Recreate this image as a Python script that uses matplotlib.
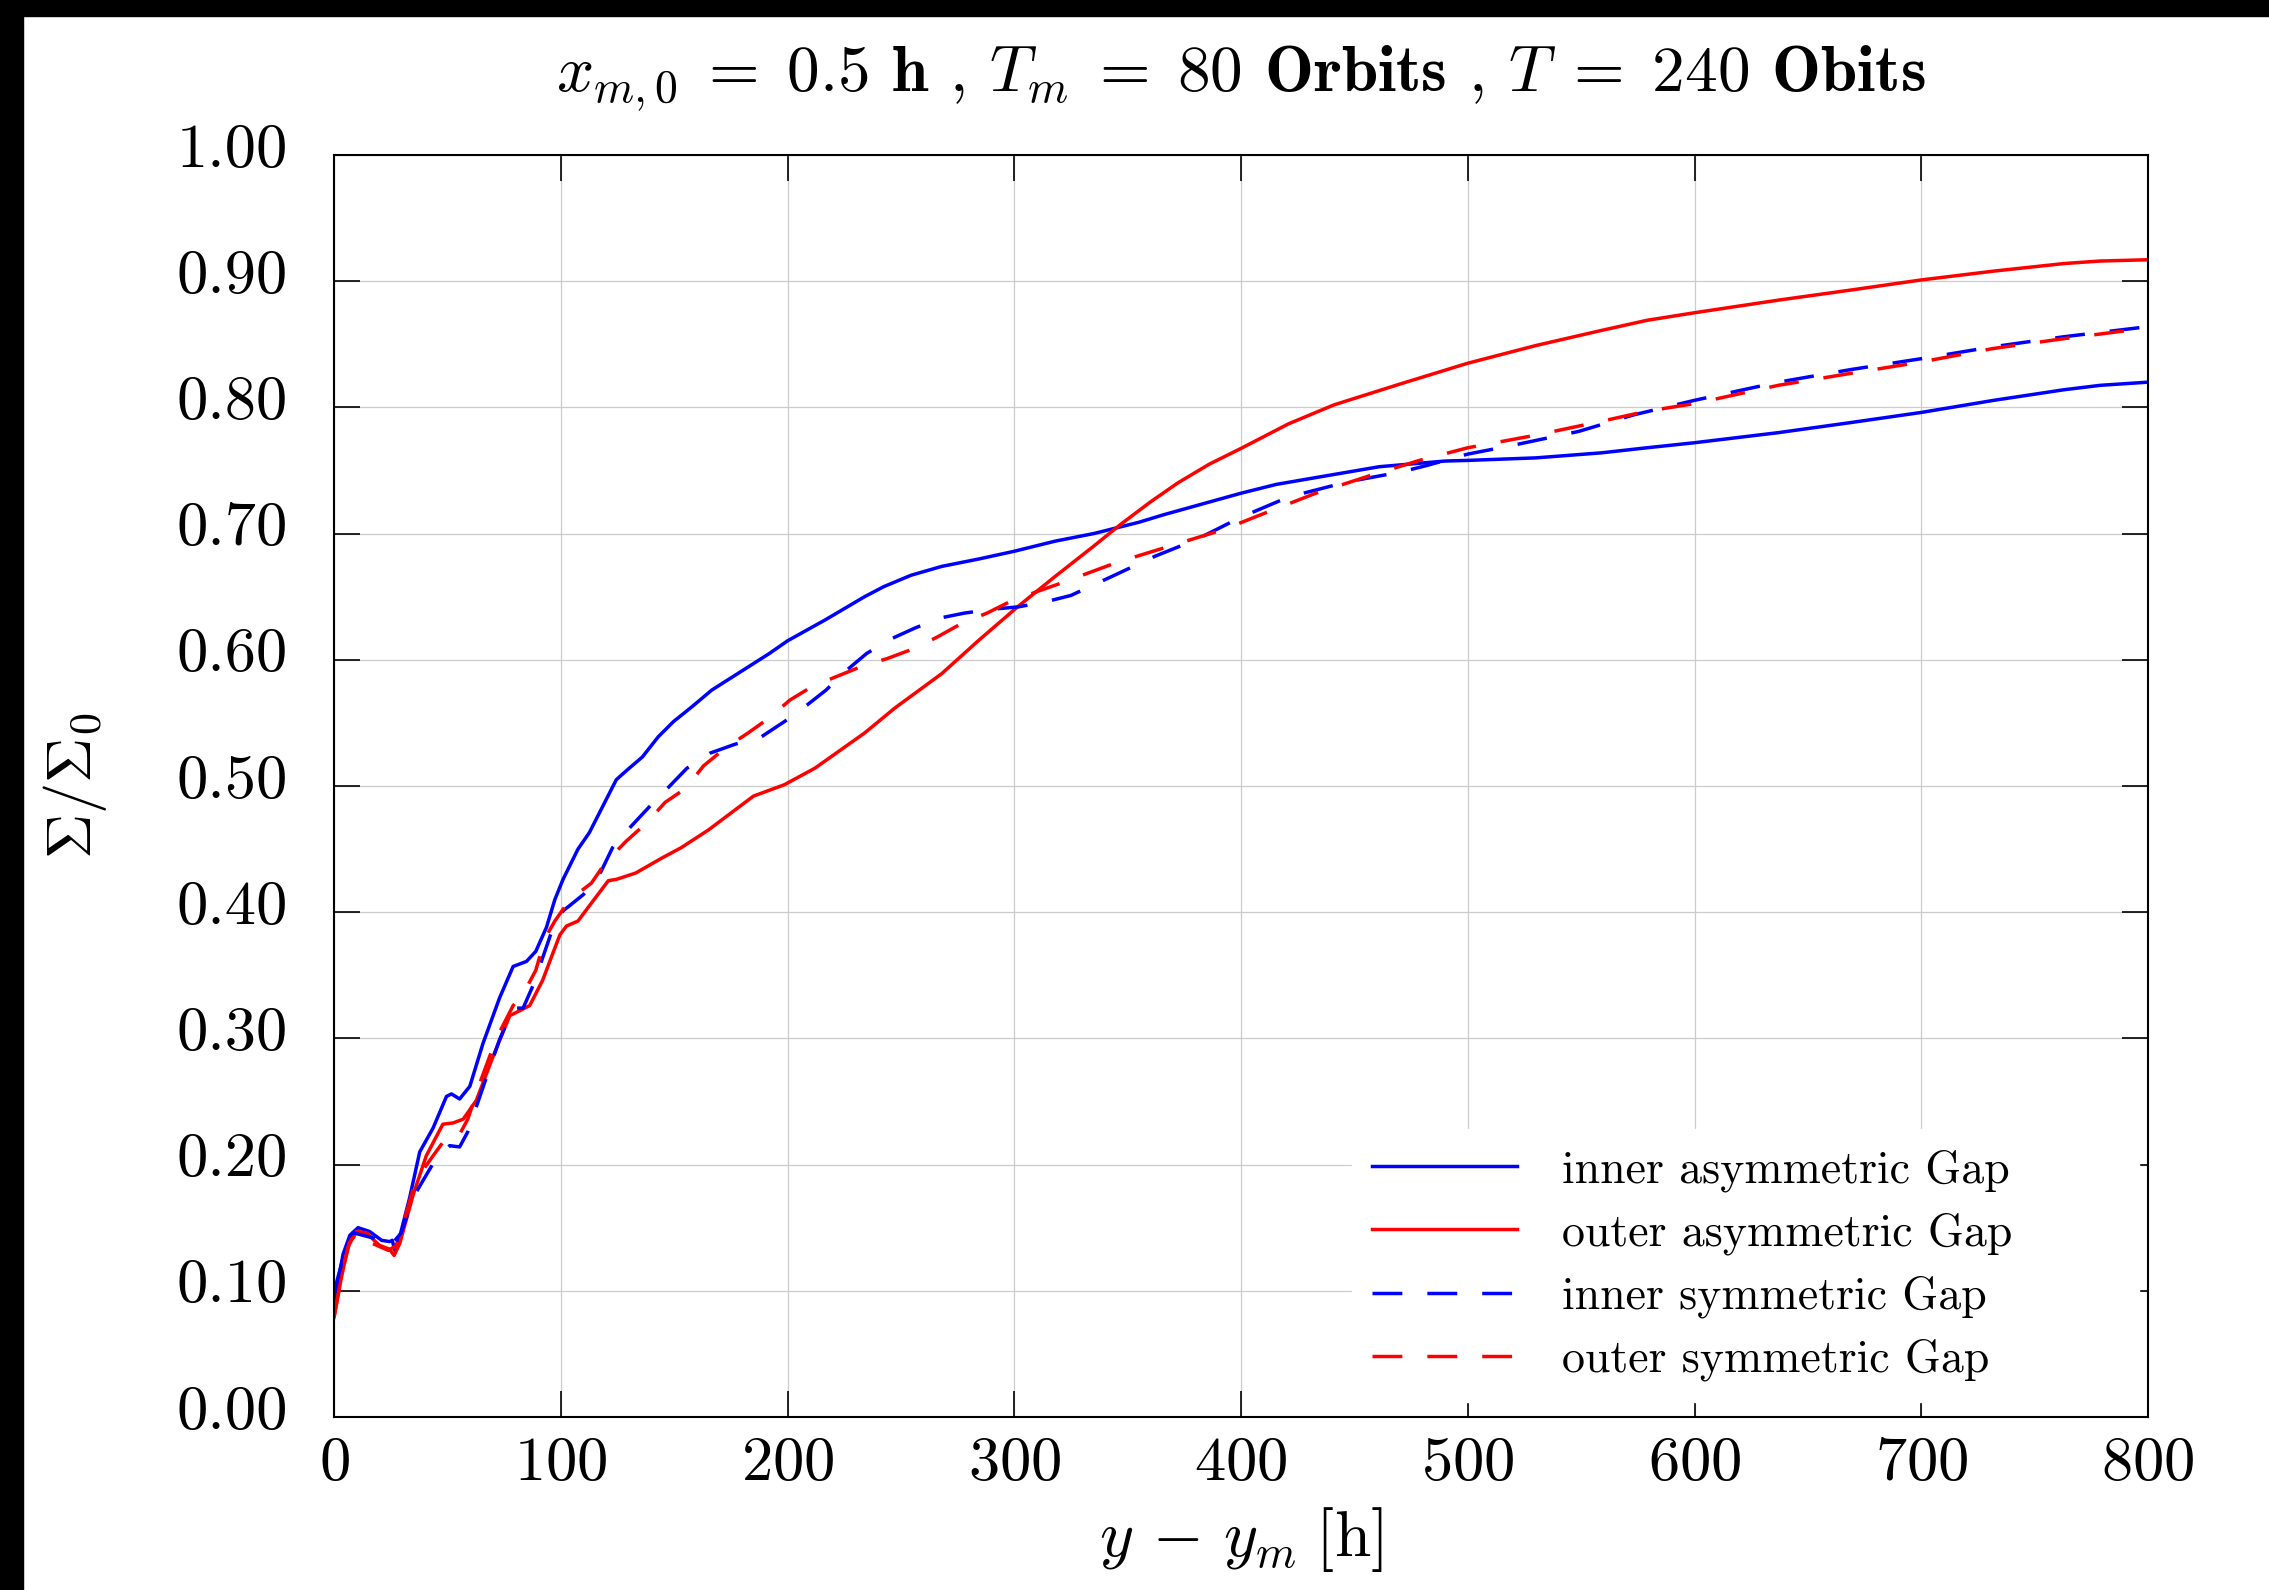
import matplotlib
matplotlib.use("Agg")
import matplotlib.pyplot as plt
from matplotlib.patches import Rectangle
from matplotlib.ticker import FormatStrFormatter, MultipleLocator
from matplotlib.transforms import ScaledTranslation

plt.rcParams['font.family'] = 'cmr10'
plt.rcParams['mathtext.fontset'] = 'cm'
plt.rcParams['axes.formatter.use_mathtext'] = True

# inner asymmetric gap (blue solid)
x_ia = [0, 4, 7, 10.6, 15.7, 21, 24.5, 25.7, 26.8, 29, 33.4, 37.8, 43.7, 49.6, 51.8, 55.4, 59.9,
        65.7, 73, 79, 84.9, 89, 93.7, 97.4, 101, 107.6, 112.6, 117.7, 124.5, 129.5, 136, 143,
        149.7, 158, 166.6, 178, 192, 200, 217, 234, 242.5, 254.5, 268, 284.7, 300, 318, 335,
        355, 366, 382, 400, 415.6, 435, 461, 490, 500, 530, 559, 579, 600, 637, 669, 700, 732,
        763, 779, 800]
y_ia = [0.090, 0.129, 0.144, 0.150, 0.147, 0.140, 0.139, 0.140, 0.132, 0.143, 0.174, 0.210, 0.229,
        0.254, 0.256, 0.252, 0.262, 0.296, 0.332, 0.357, 0.361, 0.369, 0.388, 0.410, 0.426, 0.450,
        0.463, 0.481, 0.505, 0.513, 0.523, 0.539, 0.551, 0.563, 0.576, 0.589, 0.605, 0.615, 0.632,
        0.650, 0.658, 0.667, 0.674, 0.680, 0.686, 0.694, 0.700, 0.709, 0.715, 0.723, 0.732, 0.739,
        0.745, 0.753, 0.7575, 0.758, 0.760, 0.764, 0.768, 0.772, 0.780, 0.788, 0.796, 0.8056,
        0.814, 0.8175, 0.820]

# outer asymmetric gap (red solid)
x_oa = [0, 3.2, 6.2, 9.9, 14.3, 20, 24.5, 26.5, 29, 34.9, 40.7, 48, 52.5, 57, 62.8, 70, 77.5, 82,
        86.3, 92, 96, 99.6, 102.5, 107.6, 112.6, 121, 124.5, 133, 144.7, 153, 165, 185, 198.6, 212,
        234, 247.5, 268, 284.7, 301.5, 318, 335, 346.7, 360, 372, 386, 400, 421, 441, 471, 500,
        530, 559, 579, 600, 637, 669, 700, 732, 763, 779, 800]
y_oa = [0.079, 0.110, 0.135, 0.147, 0.146, 0.136, 0.133, 0.128, 0.1375, 0.176, 0.207, 0.232, 0.233,
        0.236, 0.251, 0.285, 0.318, 0.322, 0.326, 0.346, 0.365, 0.382, 0.389, 0.393, 0.405, 0.425,
        0.426, 0.431, 0.443, 0.451, 0.465, 0.492, 0.501, 0.514, 0.542, 0.562, 0.589, 0.616, 0.642,
        0.666, 0.690, 0.707, 0.725, 0.740, 0.755, 0.7675, 0.787, 0.802, 0.819, 0.835, 0.849, 0.861,
        0.869, 0.875, 0.885, 0.893, 0.901, 0.908, 0.914, 0.916, 0.917]

# inner symmetric gap (blue dashed)
x_is = [0, 4, 8.4, 17, 23, 25, 29.7, 34.9, 39.3, 44.4, 51, 55.4, 59, 62.8, 67, 73, 79, 83.4, 87.8,
        93, 97.4, 101, 110, 117.7, 122.8, 131, 138.8, 147, 155.6, 165.8, 176.7, 188.5, 198.6,
        207.8, 217, 225.6, 234.9, 245, 256, 267, 278, 290, 302, 314, 325, 343, 362, 380, 400, 421,
        447, 471, 482, 500, 520, 549, 573, 600, 637, 669, 700, 731.5, 763, 800]
y_is = [0.099, 0.126, 0.146, 0.142, 0.135, 0.136, 0.146, 0.174, 0.1875, 0.203, 0.215, 0.214, 0.226,
        0.246, 0.268, 0.299, 0.324, 0.324, 0.342, 0.369, 0.392, 0.401, 0.414, 0.432, 0.451, 0.468,
        0.483, 0.498, 0.514, 0.526, 0.533, 0.539, 0.551, 0.563, 0.576, 0.591, 0.605, 0.616, 0.625,
        0.633, 0.637, 0.640, 0.642, 0.646, 0.651, 0.666, 0.682, 0.695, 0.713, 0.729, 0.741, 0.749,
        0.754, 0.763, 0.770, 0.781, 0.794, 0.8056, 0.820, 0.830, 0.8386, 0.848, 0.856, 0.864]

# outer symmetric gap (red dashed)
x_os = [0, 4, 7, 10.6, 17, 24, 27.5, 32, 36, 43.7, 51, 55.4, 59, 65, 71.6, 79, 83.4, 89, 93, 97.4,
        104, 113.5, 120, 128.7, 138, 146, 155, 163, 172.5, 182.6, 192, 201, 211, 222, 233, 244,
        256, 266, 277, 288, 298, 310, 321, 333, 345, 372, 392, 411.6, 433, 457, 478.7, 500, 530,
        559, 579, 600, 637, 669, 700, 731.5, 763, 800]
y_os = [0.079, 0.118, 0.139, 0.147, 0.1375, 0.132, 0.136, 0.1625, 0.1875, 0.207, 0.225, 0.224, 0.236,
        0.268, 0.300, 0.326, 0.335, 0.354, 0.379, 0.393, 0.410, 0.423, 0.440, 0.456, 0.471, 0.487,
        0.498, 0.516, 0.530, 0.542, 0.554, 0.568, 0.579, 0.587, 0.595, 0.601, 0.609, 0.618, 0.629,
        0.637, 0.646, 0.654, 0.661, 0.669, 0.677, 0.692, 0.703, 0.717, 0.732, 0.746, 0.758, 0.768,
        0.778, 0.789, 0.797, 0.803, 0.8175, 0.827, 0.836, 0.8466, 0.8545, 0.863]

labels = ['inner asymmetric Gap', 'outer asymmetric Gap', 'inner symmetric Gap', 'outer symmetric Gap']

fig = plt.figure(figsize=(22.69, 15.90), dpi=100)
ax = fig.add_axes([334 / 2269, 1 - 1417 / 1590, 1814 / 2269, 1262 / 1590])

lw = 2.5
dash = (8.6, 7.2)
ax.plot(x_ia, y_ia, color='blue', lw=lw, label=labels[0])
ax.plot(x_oa, y_oa, color='red', lw=lw, label=labels[1])
ax.plot(x_is, y_is, color='blue', lw=lw, ls='--', dashes=dash, label=labels[2])
ax.plot(x_os, y_os, color='red', lw=lw, ls='--', dashes=dash, label=labels[3])

ax.set_xlim(0, 800)
ax.set_ylim(0, 1.0)
ax.xaxis.set_major_locator(MultipleLocator(100))
ax.yaxis.set_major_locator(MultipleLocator(0.1))
ax.yaxis.set_major_formatter(FormatStrFormatter('%.2f'))
ax.grid(True, color='#cccccc', lw=0.9)
ax.set_axisbelow(True)
for s in ax.spines.values():
    s.set_linewidth(1.5)
ax.tick_params(direction='in', length=19, width=1.2, top=True, right=True, labelsize=45)
ax.tick_params(axis='x', pad=14)
ax.tick_params(axis='y', pad=33)

# y tick labels sit a little above their ticks in the original
up = ScaledTranslation(0, 10 / 100, fig.dpi_scale_trans)
for t in ax.yaxis.get_major_ticks():
    t.label1.set_transform(t.label1.get_transform() + up)

ax.set_xlabel(r'$y\,-\,y_m\;[\mathrm{h}]$', fontsize=47)
ax.xaxis.set_label_coords(0.5, -0.07)
ax.set_ylabel(r'$\Sigma/\Sigma_0$', fontsize=45)
ax.yaxis.set_label_coords(-0.124, 0.5)

fig.text(1241 / 2269, 1 - 78 / 1590,
         r'$x_{m,0}\;=\;0.5$ $\mathbf{h}$ $\mathbf{,}$ $T_m\;=\;80$ $\mathbf{Orbits}$ $\mathbf{,}$ '
         r'$T\;=\;240$ $\mathbf{Obits}$',
         fontsize=47, ha='center', va='center')

leg = ax.legend(loc='lower left', bbox_to_anchor=(0.561, 0.012, 0.434, 0.2), mode='expand',
                borderaxespad=0, fontsize=33, handlelength=3.15, handletextpad=1.0,
                labelspacing=0.45, frameon=True, fancybox=False, borderpad=0.45)
leg.get_frame().set_edgecolor('white')
leg.get_frame().set_facecolor('white')
leg.get_frame().set_alpha(1)

# black strips at the top and left of the original screenshot
fig.patches.append(Rectangle((0, 0), 23 / 2269, 1, transform=fig.transFigure, color='black', zorder=10))
fig.patches.append(Rectangle((0, 1 - 16 / 1590), 1, 16 / 1590, transform=fig.transFigure, color='black', zorder=10))

fig.savefig('out.png', dpi=100)
